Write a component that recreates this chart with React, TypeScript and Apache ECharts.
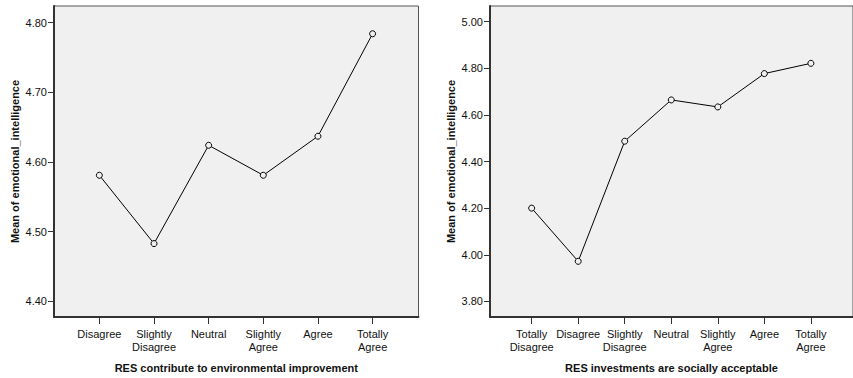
import React, { useEffect, useRef } from "react";
import * as echarts from "echarts";

const leftCategories = ["Disagree", "Slightly\nDisagree", "Neutral", "Slightly\nAgree", "Agree", "Totally\nAgree"];
const leftValues = [4.581, 4.483, 4.624, 4.581, 4.637, 4.784];
const leftYTicks = [4.4, 4.5, 4.6, 4.7, 4.8];
const leftXTitle = "RES contribute to environmental improvement";

const rightCategories = ["Totally\nDisagree", "Disagree", "Slightly\nDisagree", "Neutral", "Slightly\nAgree", "Agree", "Totally\nAgree"];
const rightValues = [4.2, 3.972, 4.487, 4.664, 4.634, 4.777, 4.821];
const rightYTicks = [3.8, 4.0, 4.2, 4.4, 4.6, 4.8, 5.0];
const rightXTitle = "RES investments are socially acceptable";

const yTitle = "Mean of emotional_intelligence";

const FONT = "Liberation Sans, Arial, sans-serif";

function xAxisCfg(gridIndex: number, cats: string[], min: number, max: number, title: string) {
  return {
    type: "value" as const,
    gridIndex,
    min,
    max,
    splitLine: { show: false },
    axisLine: { show: true, onZero: false, lineStyle: { color: "#333", width: 2 } },
    axisTick: { show: true, length: 7, lineStyle: { color: "#333", width: 1 }, customValues: cats.map((_, i) => i) },
    axisLabel: {
      customValues: cats.map((_, i) => i),
      formatter: (v: number) => cats[Math.round(v)] ?? "",
      color: "#111",
      fontSize: 11,
      fontFamily: FONT,
      lineHeight: 13,
      margin: 10,
    },
    name: title,
    nameLocation: "middle" as const,
    nameGap: 45,
    nameTextStyle: { color: "#111", fontSize: 11, fontWeight: "bold" as const, fontFamily: FONT, verticalAlign: "top" as const },
  };
}

function yAxisCfg(gridIndex: number, ticks: number[], min: number, max: number) {
  return {
    type: "value" as const,
    gridIndex,
    min,
    max,
    splitLine: { show: false },
    axisLine: { show: true, onZero: false, lineStyle: { color: "#333", width: 2 } },
    axisTick: { show: true, length: 6, lineStyle: { color: "#333", width: 1 }, customValues: ticks },
    axisLabel: {
      customValues: ticks,
      formatter: (v: number) => v.toFixed(2),
      color: "#111",
      fontSize: 11,
      fontFamily: FONT,
      margin: 7,
    },
    name: yTitle,
    nameLocation: "middle" as const,
    nameGap: 34,
    nameTextStyle: { color: "#111", fontSize: 11, fontWeight: "bold" as const, fontFamily: FONT },
  };
}

function seriesCfg(idx: number, values: number[]) {
  return {
    type: "line" as const,
    xAxisIndex: idx,
    yAxisIndex: idx,
    data: values.map((v, i) => [i, v]),
    symbol: "circle",
    symbolSize: 6,
    showSymbol: true,
    lineStyle: { color: "#000", width: 1 },
    itemStyle: { color: "#f0f0f0", borderColor: "#000", borderWidth: 1 },
    clip: false,
    z: 5,
  };
}

export default function App() {
  const ref = useRef<HTMLDivElement>(null);
  useEffect(() => {
    if (!ref.current) return;
    const chart = echarts.init(ref.current, undefined, { renderer: "svg" });
    chart.setOption({
      animation: false,
      backgroundColor: "#ffffff",
      textStyle: { fontFamily: FONT },
      grid: [
        { left: 54, top: 6, width: 364.5, height: 313, show: true, backgroundColor: "#f0f0f0", borderColor: "#555", borderWidth: 1 },
        { left: 490, top: 6, width: 377.5, height: 313, show: true, backgroundColor: "#f0f0f0", borderColor: "#555", borderWidth: 1 },
      ],
      xAxis: [
        xAxisCfg(0, leftCategories, -0.83, 5.84, leftXTitle),
        xAxisCfg(1, rightCategories, -0.895, 6.905, rightXTitle),
      ],
      yAxis: [
        yAxisCfg(0, leftYTicks, 4.3777, 4.8238),
        yAxisCfg(1, rightYTicks, 3.7332, 5.0668),
      ],
      series: [seriesCfg(0, leftValues), seriesCfg(1, rightValues)],
    });
    return () => chart.dispose();
  }, []);
  return <div ref={ref} style={{ position: "absolute", left: 0, top: 0, width: 853, height: 378 }} />;
}
